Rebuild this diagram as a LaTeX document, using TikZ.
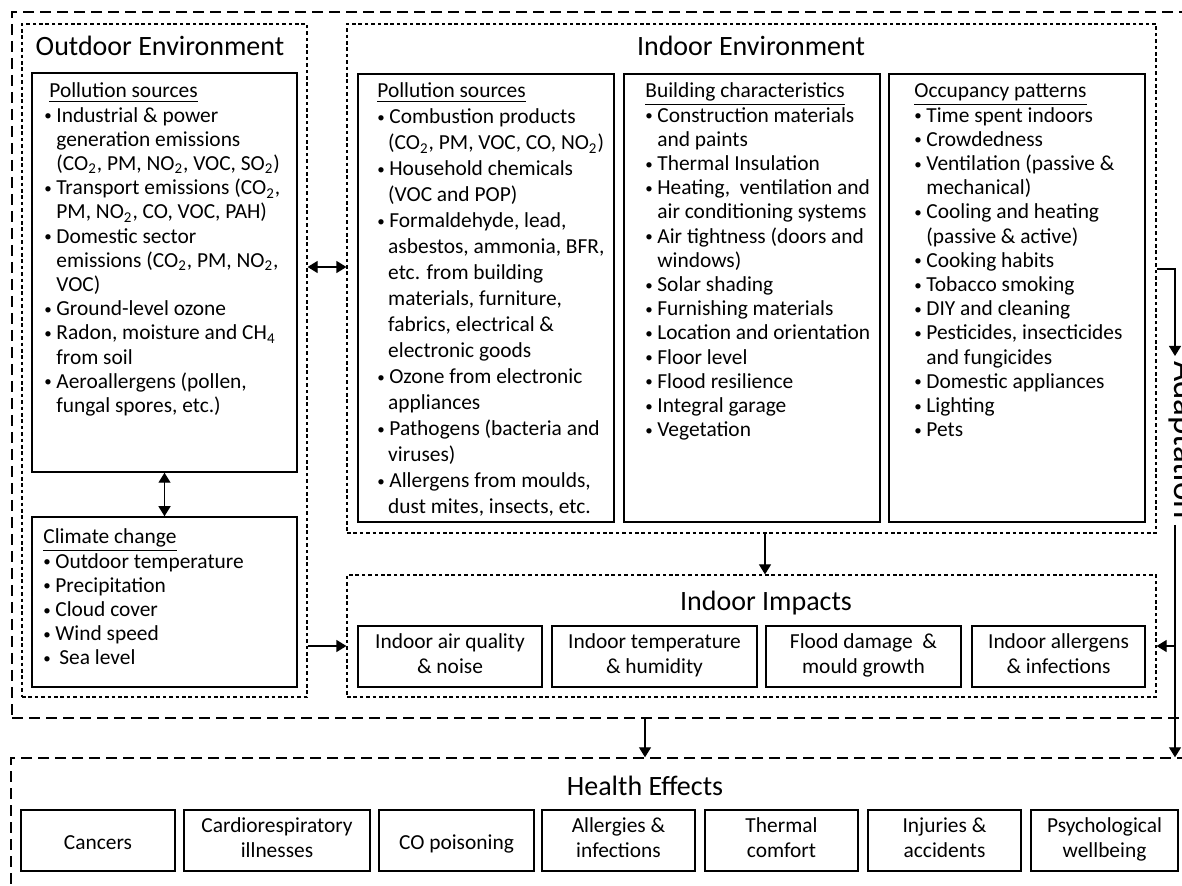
\documentclass[tikz,border=0pt]{standalone}
\usepackage{fontspec}
\usepackage{graphicx}
\setmainfont{Carlito}
\usetikzlibrary{arrows.meta,fit,positioning}

\newcommand{\bul}{\makebox[6pt][l]{\raisebox{0.15ex}{\scalebox{0.7}{\textbullet}}}}
\newcommand{\cnt}[1][6pt]{\hspace*{#1}}
\newcommand{\sub}[1]{\textsubscript{#1}}
\newcommand{\bstrut}{\rule[-2.7pt]{0pt}{14.2pt}}

\begin{document}
\begin{tikzpicture}[x=0.5pt, y=-0.5pt,
    outer/.style = {draw, line width=0.7pt, dash pattern=on 5.5pt off 3pt, inner sep=0pt},
    group/.style = {draw, line width=0.6pt, dash pattern=on 1.8pt off 1.4pt, inner sep=0pt},
    box/.style = {draw, line width=0.75pt, inner sep=0pt, align=center, font=\fontsize{10.7}{12.4}\selectfont},
    ibox/.style = {box, outer sep=0pt, minimum height=30.5pt, execute at begin node=\bstrut, execute at end node=\bstrut},
    ttl/.style = {inner sep=0pt, font=\fontsize{14}{16}\selectfont},
    lst/.style = {anchor=base west, inner sep=0pt, font=\fontsize{10.7}{12.1}\selectfont},
    arr/.style = {-{Triangle[length=5pt,width=6pt]}, line width=0.6pt},
    darr/.style = {{Triangle[length=5pt,width=6pt]}-{Triangle[length=5pt,width=6pt]}, line width=0.6pt}]

  \clip (0,0) rectangle (1182,886);

  % environment
  \node[outer, fit={(12,12) (1200,718)}] (envall) {};
  \node[group, fit={(22,24) (307,697)}] (outEnv) {};
  \node[ttl] (outTitle) at (160,46) {Outdoor Environment};
  \node[box, fit={(32,73) (297,472)}] (opsrc) {};
  \node[box, fit={(32,517) (297,687)}] (clim) {};
  \node[group, fit={(347,24) (1156,533)}] (inEnv) {};
  \node[ttl] (inTitle) at (751,46) {Indoor Environment};
  \node[box, fit={(358,74) (614,522)}] (ipsrc) {};
  \node[box, fit={(624,74) (880,522)}] (bldg) {};
  \node[box, fit={(889,74) (1145,522)}] (occ) {};

  \node[lst] (opsrctxt) at (44,98) {\begin{minipage}[t]{120pt}
    \hspace*{2.5pt}\underline{Pollution sources}\\
    \bul Industrial \& power\\
    \cnt generation emissions\\
    \cnt (CO\sub{2}, PM, NO\sub{2}, VOC, SO\sub{2})\\
    \bul Transport emissions (CO\sub{2},\\
    \cnt PM, NO\sub{2}, CO, VOC, PAH)\\
    \bul Domestic sector\\
    \cnt emissions (CO\sub{2}, PM, NO\sub{2},\\
    \cnt VOC)\\
    \bul Ground-level ozone\\
    \bul Radon, moisture and CH\sub{4}\\
    \cnt from soil\\
    \bul Aeroallergens (pollen,\\
    \cnt fungal spores, etc.)
  \end{minipage}};
  \node[lst] (climtxt) at (43,544) {\begin{minipage}[t]{120pt}
    \underline{Climate change}\\
    \bul Outdoor temperature\\
    \bul Precipitation\\
    \bul Cloud cover\\
    \bul Wind speed\\
    \bul\hspace{2pt}Sea level
  \end{minipage}};
  \node[lst, font=\fontsize{10.7}{13}\selectfont] (ipsrctxt) at (377,98) {\begin{minipage}[t]{115pt}
    \underline{Pollution sources}\\
    \bul Combustion products\\
    \cnt[3pt] (CO\sub{2}, PM, VOC, CO, NO\sub{2})\\
    \bul Household chemicals\\
    \cnt[3pt] (VOC and POP)\\
    \bul Formaldehyde, lead,\\
    \cnt[3pt] asbestos, ammonia, BFR,\\
    \cnt[3pt] etc. from building\\
    \cnt[3pt] materials, furniture,\\
    \cnt[3pt] fabrics, electrical \&\\
    \cnt[3pt] electronic goods\\
    \bul Ozone from electronic\\
    \cnt[3pt] appliances\\
    \bul Pathogens (bacteria and\\
    \cnt[3pt] viruses)\\
    \bul Allergens from moulds,\\
    \cnt[3pt] dust mites, insects, etc.
  \end{minipage}};
  \node[lst] (bldgtxt) at (645,98) {\begin{minipage}[t]{115pt}
    \underline{Building characteristics}\\
    \bul Construction materials\\
    \cnt and paints\\
    \bul Thermal Insulation\\
    \bul Heating,\ \ ventilation and\\
    \cnt air conditioning systems\\
    \bul Air tightness (doors and\\
    \cnt windows)\\
    \bul Solar shading\\
    \bul Furnishing materials\\
    \bul Location and orientation\\
    \bul Floor level\\
    \bul Flood resilience\\
    \bul Integral garage\\
    \bul Vegetation
  \end{minipage}};
  \node[lst] (occtxt) at (914,98) {\begin{minipage}[t]{112pt}
    \underline{Occupancy patterns}\\
    \bul Time spent indoors\\
    \bul Crowdedness\\
    \bul Ventilation (passive \&\\
    \cnt mechanical)\\
    \bul Cooling and heating\\
    \cnt (passive \& active)\\
    \bul Cooking habits\\
    \bul Tobacco smoking\\
    \bul DIY and cleaning\\
    \bul Pesticides, insecticides\\
    \cnt and fungicides\\
    \bul Domestic appliances\\
    \bul Lighting\\
    \bul Pets
  \end{minipage}};

  % impacts
  \node[group, fit={(347,575) (1156,697)}] (impacts) {};
  \node[ttl] (impTitle) at (766,603) {Indoor Impacts};
  \node[ibox, minimum width=92pt] (iaq) at (450,656.5) {Indoor air quality\\ \& noise};
  \node[ibox, minimum width=102.5pt, right=5pt of iaq] (itemp) {Indoor temperature\\ \& humidity};
  \node[ibox, minimum width=97.5pt, right=4.5pt of itemp] (flood) {Flood damage\ \ \&\\ mould growth};
  \node[ibox, minimum width=86.5pt, right=5.5pt of flood] (iall) {Indoor allergens\\ \& infections};

  % health
  \node[outer, fit={(11,758) (1200,900)}] (health) {};
  \node[ttl] (hTitle) at (645,786) {Health Effects};
  \node[ibox, minimum width=77pt] (cancer) at (98,840.5) {Cancers};
  \node[ibox, minimum width=93pt, right=4.5pt of cancer] (cardio) {Cardiorespiratory\\ illnesses};
  \node[ibox, minimum width=77.5pt, right=4.5pt of cardio] (copois) {CO poisoning};
  \node[ibox, minimum width=76.5pt, right=4pt of copois] (allerg) {Allergies \&\\ infections};
  \node[ibox, minimum width=76.5pt, right=5pt of allerg] (thermal) {Thermal\\ comfort};
  \node[ibox, minimum width=76.5pt, right=5pt of thermal] (injury) {Injuries \&\\ accidents};
  \node[ibox, minimum width=73.5pt, right=5pt of injury] (psych) {Psychological\\ wellbeing};

  % adaptation
  \node[inner sep=0pt, rotate=-90, anchor=base, font=\fontsize{17.5}{20}\selectfont] (adapt) at (1174,440) {Adaptation};
  \coordinate (dblrow) at (0,267);
  \coordinate (siderow) at (0,646);
  \coordinate (adrow) at (0,269);
  \coordinate (adtop) at (1175,356);
  \coordinate (adbot) at (1175,525);
  \coordinate (impcol) at (765,0);
  \coordinate (hcol) at (645,0);

  \draw[darr] (opsrc.south) -- (clim.north);
  \draw[darr] (outEnv.east |- dblrow) -- (inEnv.west |- dblrow);
  \draw[arr] (outEnv.east |- siderow) -- (impacts.west |- siderow);
  \draw[arr] (inEnv.south -| impcol) -- (impacts.north -| impcol);
  \draw[arr] (envall.south -| hcol) -- (health.north -| hcol);
  \draw[arr] (inEnv.east |- adrow) -| (adtop);
  \draw[arr] (adbot) -- (health.north -| adbot);
  \draw[arr] (adbot |- siderow) -- (impacts.east |- siderow);
\end{tikzpicture}
\end{document}
